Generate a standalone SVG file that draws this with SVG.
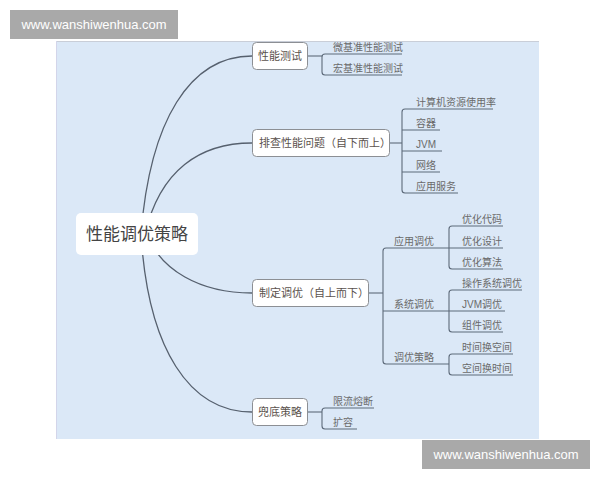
<svg xmlns="http://www.w3.org/2000/svg" width="600" height="480" viewBox="0 0 600 480">
<style>
.wm{fill:#a9a9a9}
.wmt{font-family:"Liberation Sans",Arial,sans-serif;font-size:13px;fill:#ffffff}
.box{fill:#ffffff;stroke:#8c8f94;stroke-width:1}
.bt{font-family:"Liberation Sans","Noto Sans CJK SC",sans-serif;font-size:11px;fill:#5b524d}
.lt{font-family:"Liberation Sans","Noto Sans CJK SC",sans-serif;font-size:10px;fill:#6a6a6a}
.ln{fill:none;stroke:#5d6a7a;stroke-width:1.1}
.cv{fill:none;stroke:#56606e;stroke-width:1.3}
</style>
<rect x="0" y="0" width="600" height="480" fill="#ffffff"/>
<rect x="56" y="41" width="483" height="398" fill="#dbe8f7"/>
<line x1="56" y1="41.5" x2="539" y2="41.5" stroke="#c9ced8" stroke-width="1"/>
<line x1="56.5" y1="41" x2="56.5" y2="439" stroke="#d3d5ea" stroke-width="1"/>
<g id="connectors">
<path class="cv" d="M141,234 C150,120 190,56 252,56"/>
<path class="cv" d="M145,234 C160,170 200,143 252,143"/>
<path class="cv" d="M147,234 C160,270 200,293 252,293"/>
<path class="cv" d="M141,234 C148,350 190,412 252,412"/>
<path class="ln" d="M308,56 H322"/>
<path class="ln" d="M402,54 H325 Q322,54 322,57 V72 Q322,75 325,75 H402"/>
<path class="ln" d="M390,143 H402"/>
<path class="ln" d="M493,109 H405 Q402,109 402,112 V190 Q402,193 405,193 H458"/>
<path class="ln" d="M402,130 H440 M402,151 H442 M402,172 H440"/>
<path class="ln" d="M369,293 H383"/>
<path class="ln" d="M449,248 H386 Q383,248 383,251 V361 Q383,364 386,364 H449"/>
<path class="ln" d="M383,311 H449"/>
<path class="ln" d="M503,226 H452 Q449,226 449,229 V266 Q449,269 452,269 H503"/>
<path class="ln" d="M449,248 H503"/>
<path class="ln" d="M522,290 H452 Q449,290 449,293 V329 Q449,332 452,332 H503"/>
<path class="ln" d="M449,311 H505"/>
<path class="ln" d="M513,354 H452 Q449,354 449,357 V372 Q449,375 452,375 H513"/>
<path class="ln" d="M308,412 H322"/>
<path class="ln" d="M374,408 H325 Q322,408 322,411 V426 Q322,429 325,429 H357"/>
</g>
<g id="root">
<rect x="76" y="213" width="122" height="42" rx="5" fill="#ffffff"/>
<text x="137" y="240" text-anchor="middle" font-family="Liberation Sans,Noto Sans CJK SC,sans-serif" font-size="17" fill="#444444">性能调优策略</text>
</g>
<g id="n-perf-test">
<rect class="box" x="252.5" y="42.5" width="55" height="27" rx="4"/>
<text class="bt" x="280" y="60" text-anchor="middle">性能测试</text>
</g>
<g id="n-micro"><text class="lt" x="333" y="50.5">微基准性能测试</text></g>
<g id="n-macro"><text class="lt" x="333" y="71.5">宏基准性能测试</text></g>
<g id="n-troubleshoot">
<rect class="box" x="252.5" y="129.5" width="137" height="27" rx="4"/>
<text class="bt" x="259" y="147">排查性能问题（自下而上）</text>
</g>
<g id="n-res"><text class="lt" x="416" y="105.5">计算机资源使用率</text></g>
<g id="n-container"><text class="lt" x="416" y="126.5">容器</text></g>
<g id="n-jvm"><text class="lt" x="416" y="147.5">JVM</text></g>
<g id="n-net"><text class="lt" x="416" y="168.5">网络</text></g>
<g id="n-app-svc"><text class="lt" x="416" y="189.5">应用服务</text></g>
<g id="n-tuning">
<rect class="box" x="252.5" y="279.5" width="116" height="27" rx="4"/>
<text class="bt" x="259" y="297">制定调优（自上而下）</text>
</g>
<g id="n-app-tune"><text class="lt" x="394" y="244.5">应用调优</text></g>
<g id="n-code"><text class="lt" x="462" y="222.5">优化代码</text></g>
<g id="n-design"><text class="lt" x="462" y="244.5">优化设计</text></g>
<g id="n-algo"><text class="lt" x="462" y="265.5">优化算法</text></g>
<g id="n-sys-tune"><text class="lt" x="394" y="307.5">系统调优</text></g>
<g id="n-os"><text class="lt" x="462" y="286.5">操作系统调优</text></g>
<g id="n-jvm-tune"><text class="lt" x="462" y="307.5">JVM调优</text></g>
<g id="n-comp"><text class="lt" x="462" y="328.5">组件调优</text></g>
<g id="n-strategy"><text class="lt" x="394" y="360.5">调优策略</text></g>
<g id="n-t2s"><text class="lt" x="462" y="350.5">时间换空间</text></g>
<g id="n-s2t"><text class="lt" x="462" y="371.5">空间换时间</text></g>
<g id="n-fallback">
<rect class="box" x="252.5" y="398.5" width="55" height="27" rx="4"/>
<text class="bt" x="280" y="416" text-anchor="middle">兜底策略</text>
</g>
<g id="n-limit"><text class="lt" x="333" y="404.5">限流熔断</text></g>
<g id="n-scale"><text class="lt" x="333" y="425.5">扩容</text></g>
<g id="watermark-top">
<rect class="wm" x="10" y="10" width="168" height="29"/>
<text class="wmt" x="94" y="29" text-anchor="middle">www.wanshiwenhua.com</text>
</g>
<g id="watermark-bottom">
<rect class="wm" x="422" y="440" width="168" height="29"/>
<text class="wmt" x="506" y="459" text-anchor="middle">www.wanshiwenhua.com</text>
</g>
</svg>
